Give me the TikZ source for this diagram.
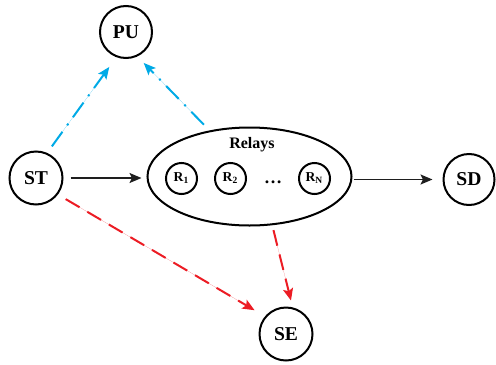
\documentclass[tikz,border=0pt]{standalone}
\usepackage{fontspec}
\setmainfont{Liberation Serif}
\usetikzlibrary{arrows.meta,shapes.geometric}
\definecolor{linkblue}{RGB}{0,170,230}
\definecolor{linkred}{RGB}{236,28,36}
\definecolor{linkblack}{RGB}{30,30,30}
\begin{document}
\begin{tikzpicture}[x=0.5pt,y=-0.5pt,
  station/.style={circle,draw=black,line width=1pt,inner sep=0pt,
    font=\fontsize{9.8}{11}\selectfont\bfseries},
  relay/.style={circle,draw=black,line width=1pt,inner sep=0pt,minimum size=15.5pt,
    font=\fontsize{6.8}{8}\selectfont\bfseries},
  tip/.style={-{Stealth[length=6pt,width=5pt,inset=1.2pt]}},
  mainlink/.style={tip,draw=linkblack,line width=0.9pt},
  leak/.style={tip,draw=linkblue,fill=linkblue,line width=1pt,
    dash pattern=on 9pt off 4pt on 1pt off 4pt},
  eaves/.style={tip,draw=linkred,fill=linkred,line width=1pt,
    dash pattern=on 8pt off 4.5pt}]
\useasboundingbox (0,0) rectangle (496,364);
% terminals
\node[station,minimum size=26pt] (PU) at (126,32) {PU};
\node[station,minimum size=26.5pt] (ST) at (36,178) {ST};
\node[station,minimum size=25.5pt] (SD) at (469,179.5) {SD};
\node[station,minimum size=26.5pt] (SE) at (286,334) {SE};
% relay cluster
\node[ellipse,draw=black,line width=1pt,minimum width=102pt,minimum height=49pt,inner sep=0pt]
  (Rel) at (249.5,176.5) {};
\node[font=\fontsize{8}{9}\selectfont\bfseries] (RelLabel) at (252,145) {Relays};
\node[relay] (R1) at (181.5,178.5) {R\textsubscript{1}};
\node[relay] (R2) at (230.5,178.5) {R\textsubscript{2}};
\node[relay] (RN) at (314.5,178.5) {R\textsubscript{N}};
\node[font=\fontsize{9}{10}\selectfont\bfseries] (dots) at (273,182) {\dots};
% data links
\draw[mainlink,shorten <=3.5pt,shorten >=2.5pt] (ST.east) -- (ST.east -| Rel.west);
\draw[mainlink,shorten <=0.5pt,shorten >=5pt] (Rel.east |- SD.west) -- (SD.west);
% interference to the primary user
\draw[leak,shorten <=4pt,shorten >=6pt] (ST.66) -- (PU.249);
\draw[leak,shorten <=4pt,shorten >=4.5pt] (Rel.131) -- (PU.295);
% eavesdropping links
\draw[eaves,shorten <=4.5pt,shorten >=6pt] (ST.-37) -- (SE.140);
\draw[eaves,shorten <=2.5pt,shorten >=3.5pt] (Rel.-65) -- (SE.76);
\end{tikzpicture}
\end{document}
